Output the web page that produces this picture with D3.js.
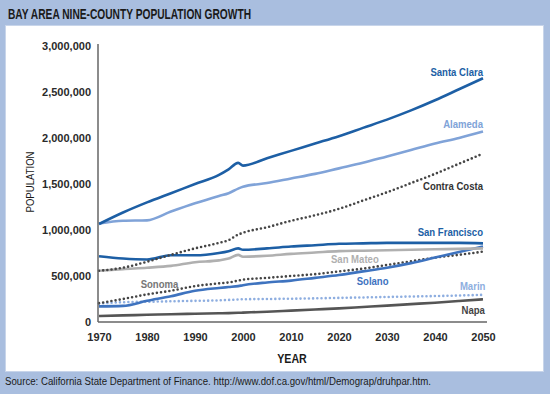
<!DOCTYPE html>
<html>
<head>
<meta charset="utf-8">
<script src="https://cdn.jsdelivr.net/npm/d3@7"></script>
<style>
  body { margin: 0; background: #a9bedf; }
  svg text { font-family: "Liberation Sans", Arial, sans-serif; }
  .narrow { font-family: "Liberation Sans Narrow", "Liberation Sans", Arial, sans-serif; }
</style>
</head>
<body>
<svg id="chart" width="550" height="394"></svg>
<script>
// years shared by all counties (estimates to 2000, projections after)
const years = [1970, 1975, 1980, 1985, 1990, 1995, 1997, 1999, 2000, 2005, 2010, 2015, 2020, 2025, 2030, 2035, 2040, 2045, 2050];

// population, in millions
const santaClara   = [1.065, 1.19, 1.30, 1.40, 1.50, 1.60, 1.66, 1.73, 1.70, 1.78, 1.86, 1.94, 2.02, 2.11, 2.20, 2.30, 2.41, 2.53, 2.65];
const alameda      = [1.07, 1.10, 1.105, 1.20, 1.29, 1.37, 1.40, 1.45, 1.47, 1.51, 1.56, 1.61, 1.67, 1.73, 1.80, 1.87, 1.94, 2.00, 2.07];
const contraCosta  = [0.557, 0.59, 0.655, 0.73, 0.80, 0.86, 0.89, 0.95, 0.97, 1.03, 1.10, 1.16, 1.23, 1.32, 1.41, 1.51, 1.61, 1.72, 1.83];
const sanFrancisco = [0.715, 0.69, 0.68, 0.725, 0.725, 0.75, 0.77, 0.80, 0.785, 0.80, 0.82, 0.835, 0.85, 0.855, 0.86, 0.86, 0.86, 0.86, 0.855];
const sanMateo     = [0.557, 0.575, 0.59, 0.61, 0.65, 0.67, 0.69, 0.73, 0.71, 0.72, 0.74, 0.755, 0.77, 0.775, 0.78, 0.785, 0.79, 0.795, 0.80];
const solano       = [0.17, 0.175, 0.23, 0.28, 0.34, 0.37, 0.38, 0.39, 0.40, 0.43, 0.45, 0.48, 0.51, 0.55, 0.59, 0.64, 0.70, 0.76, 0.82];
const sonoma       = [0.205, 0.25, 0.30, 0.34, 0.39, 0.42, 0.43, 0.45, 0.46, 0.48, 0.50, 0.52, 0.55, 0.58, 0.62, 0.66, 0.70, 0.73, 0.765];
const marin        = [0.20, 0.215, 0.22, 0.225, 0.23, 0.235, 0.24, 0.245, 0.247, 0.25, 0.253, 0.257, 0.262, 0.267, 0.272, 0.277, 0.282, 0.288, 0.295];
const napa         = [0.065, 0.072, 0.078, 0.085, 0.09, 0.095, 0.097, 0.10, 0.102, 0.112, 0.124, 0.136, 0.148, 0.163, 0.178, 0.194, 0.21, 0.228, 0.247];

const xTicks = [1970, 1980, 1990, 2000, 2010, 2020, 2030, 2040, 2050];
const yTicks = [0, 500000, 1000000, 1500000, 2000000, 2500000, 3000000];

const series = [
    {name: "Napa", values: napa, color: "#555555", dotted: false},
    {name: "Marin", values: marin, color: "#8eaee0", dotted: true},
    {name: "Sonoma", values: sonoma, color: "#454545", dotted: true},
    {name: "Solano", values: solano, color: "#3e73bf", dotted: false},
    {name: "San Mateo", values: sanMateo, color: "#b0b0b0", dotted: false},
    {name: "San Francisco", values: sanFrancisco, color: "#1d5fa5", dotted: false},
    {name: "Contra Costa", values: contraCosta, color: "#454545", dotted: true},
    {name: "Alameda", values: alameda, color: "#80a3d8", dotted: false},
    {name: "Santa Clara", values: santaClara, color: "#1d5fa5", dotted: false}
];

let svg = d3.select("#chart");

// white panel
svg.append("rect")
    .attr("x", 5.5).attr("y", 25.5)
    .attr("width", 538).attr("height", 346)
    .attr("fill", "#fff")
    .attr("stroke", "#c8d5ea");

svg.append("text")
    .attr("class", "narrow")
    .attr("x", 8).attr("y", 19)
    .attr("textLength", 243).attr("lengthAdjust", "spacingAndGlyphs")
    .style("font-size", "15px").style("font-weight", "bold").attr("fill", "#1a1a1a")
    .text("BAY AREA NINE-COUNTY POPULATION GROWTH");

svg.append("text")
    .attr("x", 5).attr("y", 385)
    .attr("textLength", 426).attr("lengthAdjust", "spacingAndGlyphs")
    .style("font-size", "10px").attr("fill", "#1a1a1a")
    .text("Source: California State Department of Finance. http://www.dof.ca.gov/html/Demograp/druhpar.htm.");

let x = d3.scaleLinear().domain([1970, 2050]).range([99, 483]);
let y = d3.scaleLinear().domain([0, 3000000]).range([322, 46]);

let line = d3.line()
    .x(function (d) { return x(d.year); })
    .y(function (d) { return y(d.value * 1e6); })
    .curve(d3.curveMonotoneX);

let g = svg.append("g");

series.forEach(function (s) {
    let pts = years.map(function (yr, i) { return {year: yr, value: s.values[i]}; });
    let p = g.append("path")
        .datum(pts)
        .attr("fill", "none")
        .attr("stroke", s.color)
        .attr("stroke-width", 2.6)
        .attr("d", line);
    if (s.dotted) {
        p.attr("stroke-linecap", "round")
            .attr("stroke-dasharray", "0,4.2");
    } else {
        p.attr("stroke-linejoin", "round");
    }
});

// axes
let xAxis = svg.append("g")
    .attr("transform", "translate(0,322)")
    .call(d3.axisBottom(x).tickValues(xTicks).tickFormat(d3.format("d")).tickSize(0).tickPadding(11));
let yAxis = svg.append("g")
    .attr("transform", "translate(98,0)")
    .call(d3.axisLeft(y).tickValues(yTicks).tickFormat(d3.format(",")).tickSize(0).tickPadding(7));

[xAxis, yAxis].forEach(function (a) {
    a.select(".domain").attr("stroke", "#666").attr("stroke-width", 1.5);
    a.selectAll("text")
        .style("font-family", "'Liberation Sans', Arial, sans-serif")
        .style("font-size", "11px").style("font-weight", "bold").attr("fill", "#2a2a2a");
});
xAxis.select(".domain").attr("d", "M" + (x.range()[0] - 1) + ",0H" + (x.range()[1] + 4));
yAxis.select(".domain").attr("d", "M0," + (y.range()[0]) + "V" + (y.range()[1] - 2));

svg.append("text")
    .attr("transform", "translate(292,358) scale(0.82,1)")
    .attr("dy", "0.35em")
    .attr("text-anchor", "middle")
    .style("font-size", "13px").style("font-weight", "bold").attr("fill", "#1a1a1a")
    .text("YEAR");

svg.append("text")
    .attr("transform", "translate(30,182) rotate(-90)")
    .attr("dy", "0.35em")
    .attr("text-anchor", "middle")
    .attr("textLength", 61).attr("lengthAdjust", "spacingAndGlyphs")
    .style("font-size", "11.5px").attr("fill", "#1a1a1a")
    .text("POPULATION");

// series labels, anchored in data units
const labelSpots = [
    {name: "Santa Clara", year: 2050, value: 2.717, anchor: "end", color: "#1d5fa5"},
    {name: "Alameda", year: 2050, value: 2.149, anchor: "end", color: "#80a3d8"},
    {name: "Contra Costa", year: 2050, value: 1.482, anchor: "end", color: "#333333"},
    {name: "San Francisco", year: 2050, value: 0.973, anchor: "end", color: "#1d5fa5"},
    {name: "San Mateo", year: 2023.3, value: 0.682, anchor: "middle", color: "#b0b0b0"},
    {name: "Solano", year: 2027, value: 0.449, anchor: "middle", color: "#3e73bf"},
    {name: "Marin", year: 2050.5, value: 0.391, anchor: "end", color: "#8eaee0"},
    {name: "Napa", year: 2050.4, value: 0.13, anchor: "end", color: "#444444"},
    {name: "Sonoma", year: 1982.6, value: 0.413, anchor: "middle", color: "#777777"}
];

svg.append("g").selectAll("text")
    .data(labelSpots)
    .enter().append("text")
    .attr("transform", function (d) {
        return "translate(" + x(d.year) + "," + y(d.value * 1e6) + ") scale(0.87,1)";
    })
    .attr("dy", "0.35em")
    .attr("text-anchor", function (d) { return d.anchor; })
    .style("font-size", "11px").style("font-weight", "bold")
    .attr("fill", function (d) { return d.color; })
    .text(function (d) { return d.name; });
</script>
</body>
</html>
